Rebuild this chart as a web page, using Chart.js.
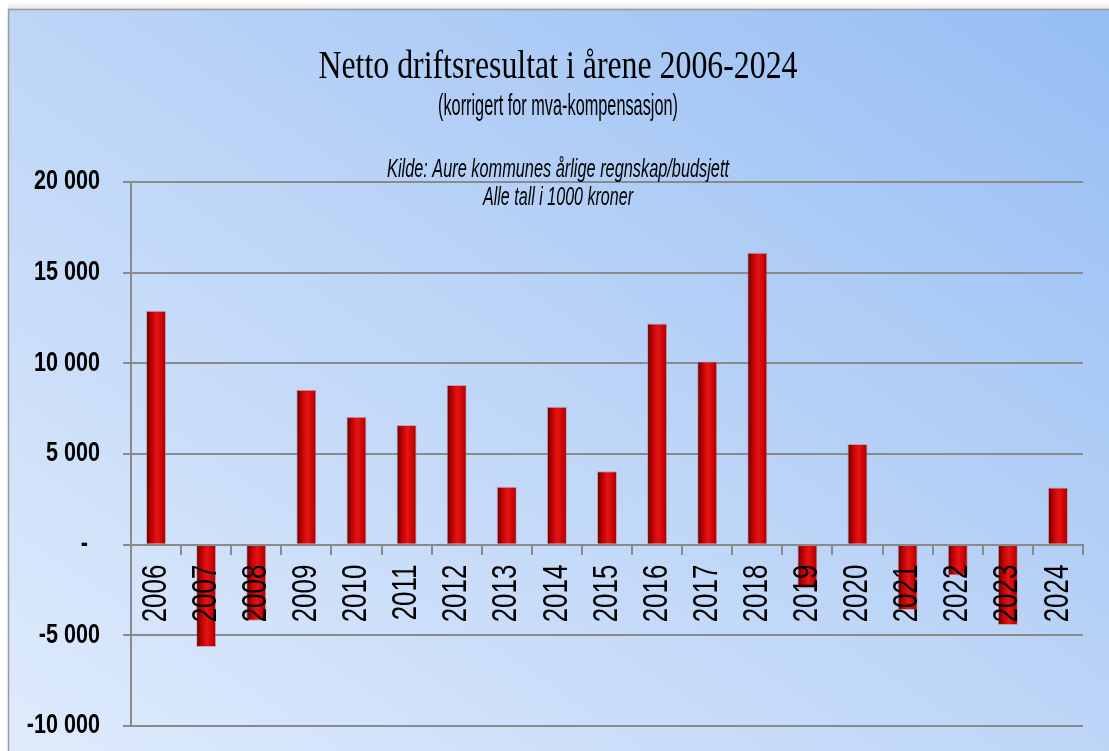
<!DOCTYPE html>
<html>
<head>
<meta charset="utf-8">
<script src="https://cdn.jsdelivr.net/npm/chart.js@4.4.1/dist/chart.umd.min.js"></script>
<style>
html,body{margin:0;padding:0;background:#fff;}
#wrap{position:relative;width:1109px;height:751px;}
</style>
</head>
<body>
<div id="wrap"><canvas id="c"></canvas></div>
<script>
// ---- data ----
const categories = ['2006','2007','2008','2009','2010','2011','2012','2013','2014','2015','2016','2017','2018','2019','2020','2021','2022','2023','2024'];
const values = [12900,-5650,-4200,8550,7050,6600,8800,3200,7600,4050,12200,10100,16100,-2400,5550,-3600,-1700,-4430,3150];
const yMin = -10000, yMax = 20000, yStep = 5000;
const titleText = 'Netto driftsresultat i årene 2006-2024';
const subtitleText = '(korrigert for mva-kompensasjon)';
const sourceLines = ['Kilde: Aure kommunes årlige regnskap/budsjett', 'Alle tall i 1000 kroner'];

const sans = "'Liberation Sans',Arial,sans-serif";
const BAR_PCT = 0.4;

function fmt(v){
  if (v === 0) return '-\u00a0\u00a0';
  const s = Math.abs(v).toString().replace(/\B(?=(\d{3})+(?!\d))/g, ' ');
  return (v < 0 ? '-' : '') + s;
}

function noPad(scale){
  scale.paddingLeft = 0; scale.paddingRight = 0;
  scale.paddingTop = 0; scale.paddingBottom = 0;
}

// condensed look for the tick label fonts (the reference uses a narrow face)
const narrowPlugin = {
  id: 'narrowTicks',
  afterInit(chart){
    const ctx = chart.ctx;
    if (ctx.__narrowed) return;
    ctx.__narrowed = true;
    const orig = ctx.fillText.bind(ctx);
    ctx.fillText = function(t, x, y, mw){
      const f = this.font;
      let s = 1;
      if (/bold/.test(f) && /(^|\s)27px/.test(f)) s = 0.8;
      else if (/(^|\s)35px/.test(f)) s = 0.74;
      if (s === 1) return mw === undefined ? orig(t, x, y) : orig(t, x, y, mw);
      this.save();
      this.translate(x, y);
      this.scale(s, 1);
      orig(t, 0, 0);
      this.restore();
    };
  }
};

const bgPlugin = {
  id: 'bg',
  beforeDraw(chart){
    const ctx = chart.ctx, W = chart.width, H = chart.height;
    ctx.save();
    ctx.fillStyle = '#ffffff';
    ctx.fillRect(0,0,W,H);
    const g0 = ctx.createLinearGradient(0,2,0,9);
    g0.addColorStop(0,'#ffffff'); g0.addColorStop(1,'#e4e4e4');
    ctx.fillStyle = g0; ctx.fillRect(8,2,W-8,7);
    const x0 = 8, y0 = 9, w = W - x0, h = H - y0;
    const cx = x0 + w/2, cy = y0 + h/2;
    const n = Math.hypot(w, h);
    const ux = h / n, uy = -w / n;
    const L = Math.abs(w/2*ux) + Math.abs(h/2*uy);
    const g = ctx.createLinearGradient(cx - ux*L, cy - uy*L, cx + ux*L, cy + uy*L);
    g.addColorStop(0,'#dfebfc');
    g.addColorStop(0.5,'#bdd5f7');
    g.addColorStop(1,'#96bef4');
    ctx.fillStyle = g;
    ctx.fillRect(x0,y0,w,h);
    ctx.strokeStyle = '#9a9a9a';
    ctx.lineWidth = 1.5;
    ctx.beginPath();
    ctx.moveTo(8.5,H); ctx.lineTo(8.5,9.5); ctx.lineTo(W,9.5);
    ctx.stroke();
    ctx.restore();
  }
};

function fitText(ctx, text, font, cx, baseline, targetW){
  ctx.font = font;
  const w = ctx.measureText(text).width;
  const sx = targetW / w;
  ctx.save();
  ctx.translate(cx, baseline);
  ctx.scale(sx, 1);
  ctx.textAlign = 'center';
  ctx.textBaseline = 'alphabetic';
  ctx.fillStyle = '#000';
  ctx.fillText(text, 0, 0);
  ctx.restore();
}

const textPlugin = {
  id: 'texts',
  afterDraw(chart){
    const ctx = chart.ctx;
    const cx = 558;
    fitText(ctx, titleText, "39px 'Liberation Serif','Times New Roman',serif", cx, 78, 479);
    fitText(ctx, subtitleText, "29px " + sans, cx, 115, 240);
    fitText(ctx, sourceLines[0], "italic 26px " + sans, cx, 176.5, 342);
    fitText(ctx, sourceLines[1], "italic 26px " + sans, cx, 205, 150);
  }
};

function barGradient(c){
  const chart = c.chart;
  const xs = chart.scales && chart.scales.x;
  if (!chart.chartArea || !xs || c.dataIndex === undefined) return '#cc0000';
  const cxp = xs.getPixelForValue(c.dataIndex);
  const half = (xs.width / categories.length) * BAR_PCT / 2;
  const g = chart.ctx.createLinearGradient(cxp - half, 0, cxp + half, 0);
  g.addColorStop(0, '#4a0000');
  g.addColorStop(0.12, '#8a0000');
  g.addColorStop(0.35, '#cf0606');
  g.addColorStop(0.55, '#e41515');
  g.addColorStop(0.8, '#cc0404');
  g.addColorStop(1, '#a00000');
  return g;
}

new Chart(document.getElementById('c'), {
  type: 'bar',
  data: {
    labels: categories,
    datasets: [{
      data: values,
      backgroundColor: barGradient,
      borderColor: 'rgba(190,120,130,0.55)',
      borderWidth: 1,
      categoryPercentage: 1.0,
      barPercentage: BAR_PCT
    }]
  },
  plugins: [narrowPlugin, bgPlugin, textPlugin],
  options: {
    responsive: true,
    maintainAspectRatio: false,
    animation: false,
    layout: { padding: { top: 182, bottom: 25, right: 26, left: 0 } },
    plugins: { legend: { display: false }, tooltip: { enabled: false }, title: { display: false } },
    scales: {
      x: {
        position: { y: 0 },
        offset: true,
        afterFit: noPad,
        grid: { offset: true, drawOnChartArea: false, drawTicks: true, tickLength: 9, color: '#8a8a8a', lineWidth: 2 },
        border: { display: true, color: '#8a8a8a', width: 2, z: 1 },
        ticks: {
          z: 1,
          autoSkip: false,
          minRotation: 90,
          maxRotation: 90,
          padding: 11,
          color: '#000',
          font: { family: sans, size: 35 }
        }
      },
      y: {
        min: yMin,
        max: yMax,
        afterFit(scale){ scale.width = 131; noPad(scale); },
        grid: { color: '#8a8a8a', lineWidth: 2, tickLength: 8, drawTicks: true },
        border: { display: true, color: '#8a8a8a', width: 2 },
        ticks: {
          stepSize: yStep,
          padding: 23,
          color: '#000',
          font: { family: sans, size: 27, weight: 'bold' },
          callback: (v) => fmt(v)
        }
      }
    }
  }
});
</script>
</body>
</html>
